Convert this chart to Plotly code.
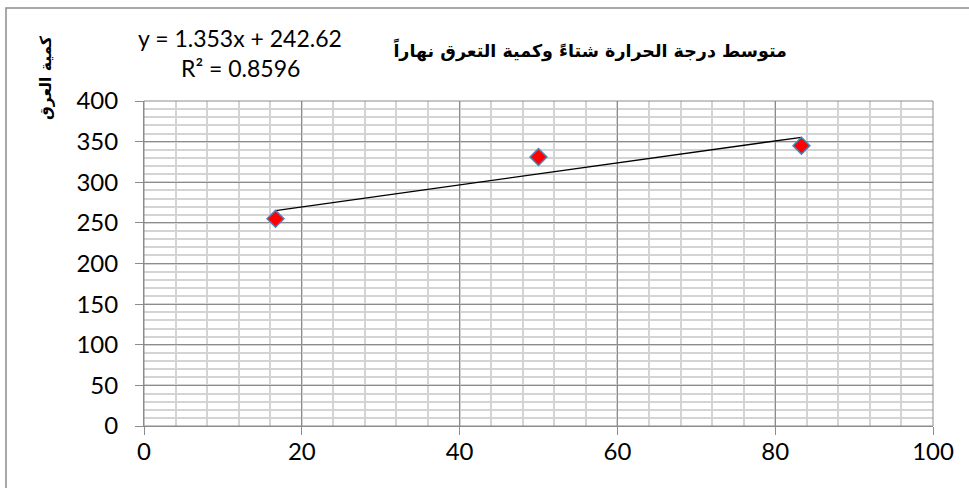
import plotly.graph_objects as go

# data
temps = [16.67, 50.0, 83.33]
sweat = [255, 331, 345]

slope = 1.353
intercept = 242.62
r2 = 0.8596

title_text = "متوسط درجة الحرارة شتاءً وكمية التعرق نهاراً"
ytitle_text = "كمية العرق"

x_ticks = [0, 20, 40, 60, 80, 100]
y_ticks = [0, 50, 100, 150, 200, 250, 300, 350, 400]

trend_x = [min(temps), max(temps)]
trend_y = [slope * v + intercept for v in trend_x]

W, H = 969, 488
L, R, T, B = 144, 36, 101, 62
pw, ph = W - L - R, H - T - B


# pixel position on the page -> paper coordinate
def px_x(p):
    return (p - L) / pw


def px_y(p):
    return (H - B - p) / ph


fig = go.Figure()

fig.add_trace(go.Scatter(x=trend_x, y=trend_y, mode="lines",
                         line=dict(color="black", width=1.3),
                         showlegend=False, hoverinfo="skip"))
fig.add_trace(go.Scatter(x=temps, y=sweat, mode="markers",
                         marker=dict(symbol="diamond", size=13, color="#ff0000",
                                     line=dict(color="#4f81bd", width=1.5)),
                         showlegend=False))

fig.update_layout(
    autosize=False, width=W, height=H,
    margin=dict(l=L, r=R, t=T, b=B),
    paper_bgcolor="white", plot_bgcolor="white",
    font=dict(family="Lato, Open Sans, sans-serif", size=24, color="black"),
    showlegend=False,
)

fig.update_xaxes(range=[0, 100], tickvals=x_ticks, showgrid=True,
                 gridcolor="#8c8c8c", gridwidth=1,
                 minor=dict(dtick=4, showgrid=True, gridcolor="#d4d4d4", gridwidth=1.5),
                 ticks="outside", ticklen=8, tickcolor="#8c8c8c",
                 showline=True, linecolor="#8c8c8c", mirror=False,
                 zeroline=False, fixedrange=True, ticklabelstandoff=-4)
fig.update_yaxes(range=[0, 400], tickvals=y_ticks, showgrid=True,
                 gridcolor="#8c8c8c", gridwidth=1,
                 minor=dict(dtick=10, showgrid=True, gridcolor="#d4d4d4", gridwidth=1.5),
                 ticks="outside", ticklen=8, tickcolor="#8c8c8c",
                 showline=True, linecolor="#8c8c8c", mirror=False,
                 zeroline=False, fixedrange=True, ticklabelstandoff=12)

# right/top edges of plot area
fig.add_shape(type="rect", xref="paper", yref="paper", x0=0, y0=0, x1=1, y1=1,
              line=dict(color="#8c8c8c", width=1), layer="above")

# chart border
fig.add_shape(type="rect", xref="paper", yref="paper",
              x0=px_x(6), y0=px_y(H + 5), x1=px_x(W + 5), y1=px_y(8),
              line=dict(color="#8c8c8c", width=1.5))

fig.add_annotation(text="<b>" + title_text + "</b>", xref="paper", yref="paper",
                   x=px_x(590), y=px_y(50), xanchor="center", yanchor="middle",
                   showarrow=False,
                   font=dict(family="DejaVu Sans", size=17.5, color="black"))
fig.add_annotation(text="<b>" + ytitle_text + "</b>", xref="paper", yref="paper",
                   x=px_x(46), y=px_y(78), xanchor="center", yanchor="middle",
                   showarrow=False, textangle=-90,
                   font=dict(family="DejaVu Sans", size=15.5, color="black"))
fig.add_annotation(text="y = %.3fx + %.2f" % (slope, intercept), xref="paper", yref="paper",
                   x=px_x(240), y=px_y(38), xanchor="center", yanchor="middle",
                   showarrow=False, font=dict(size=23))
fig.add_annotation(text="R² = %.4f" % r2, xref="paper", yref="paper",
                   x=px_x(240), y=px_y(68), xanchor="center", yanchor="middle",
                   showarrow=False, font=dict(size=23))

# drop the default page margin so the figure sits at the window's corner
fig.write_html("out.html", config={"displayModeBar": False},
               post_script="document.body.style.margin='0';")
